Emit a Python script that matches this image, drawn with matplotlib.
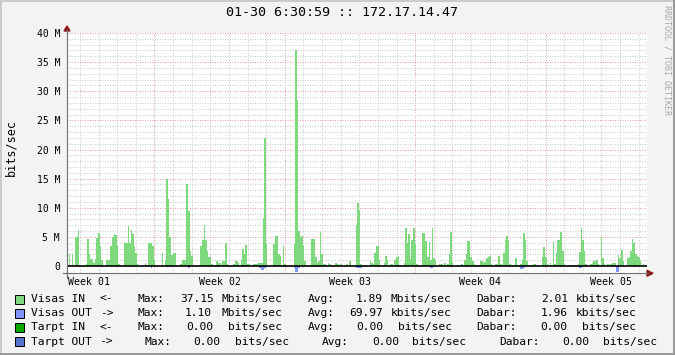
import numpy as np
import matplotlib

matplotlib.use("Agg")

from matplotlib import pyplot as plt
from matplotlib.lines import Line2D
from matplotlib.patches import Polygon, Rectangle

W, H = 675, 355
FONT = "DejaVu Sans Mono"

# Visas IN, Mbit/s, one value per 2 hours (12 per day, one row per day)
visas_in = [
    0, 2.1, 0, 2.1, 0, 5.0, 5.0, 6.2, 0.2, 0, 0, 0,
    0.3, 4.7, 2.1, 1.2, 1.2, 0.5, 1.2, 4.8, 5.6, 3.5, 1.0, 0,
    0, 1.1, 1.1, 1.1, 3.5, 5.0, 5.5, 5.3, 3.5, 0.3, 0, 0,
    0, 4.0, 4.0, 6.9, 4.0, 6.2, 5.5, 3.5, 2.2, 0.3, 0, 0,
    0, 0, 0.5, 0.2, 4.0, 4.0, 4.0, 3.5, 1.0, 0, 0, 0,
    0, 2.2, 0, 1.0, 15.0, 11.5, 5.0, 1.9, 2.2, 2.2, 0.2, 0,
    0, 0.3, 1.0, 1.0, 1.0, 14.0, 9.5, 2.5, 1.8, 0, 0, 0,
    0, 0, 3.5, 4.5, 7.0, 4.5, 2.5, 1.5, 1.5, 0.3, 0, 0.2,
    0.8, 0.5, 0.5, 0, 0.8, 0.8, 3.9, 0.3, 0, 0, 0, 0.3,
    0.8, 0.8, 0.5, 0, 1.0, 2.9, 2.0, 3.6, 0.3, 0.3, 0, 0,
    0.4, 0.4, 0.3, 0.6, 0.6, 0.6, 8.3, 22.0, 3.7, 0, 0, 0,
    0, 3.8, 5.2, 5.2, 2.0, 1.8, 0, 3.5, 0.3, 0, 0, 0,
    0, 0, 3.8, 37.15, 28.5, 6.0, 4.8, 5.2, 3.5, 0.8, 0, 0,
    0, 4.7, 4.7, 4.7, 1.5, 0.5, 0.8, 5.8, 2.0, 0.4, 0.4, 0,
    0.5, 0.4, 0, 0, 0, 0.6, 0.3, 0, 0.4, 0, 0, 0,
    0.4, 0, 0.8, 0.2, 0, 0, 7.0, 10.9, 9.6, 0.3, 0, 0,
    0, 0.2, 0, 0.8, 0.5, 0.3, 2.2, 3.5, 3.4, 1.0, 0, 0.2,
    0.5, 1.8, 1.0, 0, 0.4, 0.4, 0, 1.0, 1.5, 1.8, 0, 0.2,
    0, 0.5, 6.5, 4.0, 5.5, 1.2, 4.4, 6.6, 3.7, 0.3, 0, 0,
    0, 5.7, 5.7, 4.3, 1.5, 4.1, 1.1, 6.6, 1.3, 1.0, 0, 0,
    0.4, 0.4, 0, 0.5, 0, 0.3, 2.1, 5.9, 0.7, 0, 0, 0.2,
    0, 0, 0.4, 0, 1.0, 2.0, 4.3, 4.3, 1.6, 0.8, 0.4, 0,
    0, 0.2, 0.8, 0.8, 0.5, 0.7, 1.3, 1.5, 1.7, 0.4, 0, 0,
    0.3, 0.4, 1.8, 0.4, 0, 2.2, 4.5, 5.2, 4.5, 0.4, 0, 0,
    0, 1.3, 0.2, 0, 0.4, 1.0, 5.6, 4.5, 0.8, 0, 0.2, 0,
    0.3, 0.4, 0, 0, 0, 0, 1.5, 3.3, 1.6, 0.4, 0, 0.6,
    0, 4.1, 0.4, 2.2, 4.5, 4.5, 5.9, 2.6, 0.4, 0, 0, 0,
    0.2, 0.2, 0.2, 0.2, 0.2, 0.3, 2.4, 6.6, 4.4, 2.6, 0.4, 0,
    0, 0.3, 0.5, 0.9, 0.8, 1.0, 0.4, 0, 4.9, 1.4, 0.3, 0,
    0.4, 0, 0.3, 0.5, 0.5, 0.5, 0, 1.9, 1.4, 2.7, 0.8, 0,
    0, 1.3, 1.5, 2.6, 4.6, 3.9, 2.1, 1.7, 1.6, 0.9, 0, 0.3, 0,
]

# Visas OUT, Mbit/s, drawn below zero; only non-zero 2-hour slots listed
out_slots = [43, 54, 64, 65, 66, 67, 78, 103, 124, 125, 126, 127, 138, 139, 140,
             146, 147, 148, 149, 160, 186, 187, 188, 189, 234, 235, 247,
             292, 293, 294, 318, 330, 331, 354, 355]
out_mbit = [0.1, 0.3, 0.2, 0.2, 0.2, 0.2, 0.3, 0.1, 0.3, 0.6, 0.7, 0.4, 0.2, 0.2, 0.2,
            0.4, 1.0, 1.0, 0.3, 0.1, 0.3, 0.3, 0.3, 0.3, 0.3, 0.3, 0.2,
            0.5, 0.5, 0.4, 0.2, 0.3, 0.3, 1.1, 1.0]

week_labels = ["Week 01", "Week 02", "Week 03", "Week 04", "Week 05"]
y_ticks = [0, 5, 10, 15, 20, 25, 30, 35, 40]
y_tick_labels = ["0", "5 M", "10 M", "15 M", "20 M", "25 M", "30 M", "35 M", "40 M"]

legend_rows = [
    ("Visas IN", "<-", "Max:", "37.15", "Mbits/sec", "Avg:", "1.89", "Mbits/sec", "Dabar:", "2.01", "kbits/sec"),
    ("Visas OUT", "->", "Max:", "1.10", "Mbits/sec", "Avg:", "69.97", "kbits/sec", "Dabar:", "1.96", "kbits/sec"),
    ("Tarpt IN", "<-", "Max:", "0.00", "bits/sec", "Avg:", "0.00", "bits/sec", "Dabar:", "0.00", "bits/sec"),
    ("Tarpt OUT", "->", "Max:", "0.00", "bits/sec", "Avg:", "0.00", "bits/sec", "Dabar:", "0.00", "bits/sec"),
]
legend_colors = ["#7ED87E", "#8094FF", "#00A800", "#5472C8"]

C_IN, C_OUT = "#7ED87E", "#8094FF"
SLOTS_PER_DAY = 12
DAYS_SHOWN = 31.12


def fx(px):
    return px / W


def fy(py):
    return 1 - py / H


fig = plt.figure(figsize=(W / 100, H / 100), dpi=100, facecolor="#F3F3F3")

# plot area in pixels: x 67..646.5, y 33 (40 M) .. 273.3 (axis)
ax = fig.add_axes([fx(67), fy(273.3), (646.5 - 67) / W, (273.3 - 33) / H])
ax.set_facecolor("white")
for s in ax.spines.values():
    s.set_visible(False)
ax.set_xlim(0, DAYS_SHOWN)
ax.set_ylim(-1.25, 40)

# grid: 1px dotted lines, grey every day / 1 M, red every week / 5 M
grid_kw = dict(lw=0.72, ls=(0, (1, 1.5)), zorder=0.5, snap=True)
minor_col, major_col = "#CCCCCC", "#E8A0A0"
day_lines = np.arange(0.698, DAYS_SHOWN, 1.0)
for i, d in enumerate(day_lines):
    ax.axvline(d, color=major_col if (i - 4) % 7 == 0 else minor_col, **grid_kw)
for v in range(1, 41):
    ax.axhline(v, color=major_col if v % 5 == 0 else minor_col, **grid_kw)

# data
vin = np.array(visas_in)
vout = np.zeros(len(vin))
vout[out_slots] = out_mbit
edges = np.arange(len(vin) + 1) / SLOTS_PER_DAY
ax.stairs(vin, edges, fill=True, color=C_IN, lw=0, zorder=2)
ax.stairs(-vout, edges, fill=True, color=C_OUT, lw=0, zorder=2)
ax.axhline(0, color="black", lw=1.2, zorder=3)

# ticks
ax.set_yticks(y_ticks, y_tick_labels, fontfamily=FONT, fontsize=7)
week_pos = [day_lines[4] - 3.5 + 7 * k for k in range(len(week_labels))]
ax.set_xticks(week_pos, week_labels, fontfamily=FONT, fontsize=7.1)
ax.tick_params(axis="y", length=0, pad=5)
ax.tick_params(axis="x", length=0, pad=2.5)

# axes lines with arrows
axis_col, arrow_col = "#707070", "#8B1A1A"
fig.add_artist(Line2D([fx(67), fx(67)], [fy(278), fy(30)], color=axis_col, lw=0.8))
fig.add_artist(Line2D([fx(63), fx(648)], [fy(273.3), fy(273.3)], color=axis_col, lw=0.8))
fig.add_artist(Polygon([(fx(64), fy(31)), (fx(70), fy(31)), (fx(67), fy(26))],
                       closed=True, color=arrow_col, transform=fig.transFigure))
fig.add_artist(Polygon([(fx(647), fy(270.3)), (fx(647), fy(276.3)), (fx(653), fy(273.3))],
                       closed=True, color=arrow_col, transform=fig.transFigure))

# title, axis label, watermark
fig.text(fx(342), fy(13), "01-30 6:30:59 :: 172.17.14.47", family=FONT,
         fontsize=9.6, ha="center", va="center")
fig.text(fx(11), fy(148), "bits/sec", family=FONT, fontsize=8.5,
         rotation=90, ha="center", va="center")
fig.text(fx(666.5), fy(60), "RRDTOOL / TOBI OETIKER", family=FONT, fontsize=6,
         rotation=270, ha="center", va="center", color="#A8A8A8")

# legend
cols_by_row = [
    [31, 100, 137, 180, 221, 308, 356, 390.7, 476.7, 540.7, 575.7],
    [31, 100, 137, 185, 221, 308, 349, 390.7, 476.7, 540.7, 575.7],
    [31, 100, 137, 186.7, 228.3, 308, 356.7, 398.3, 476.7, 540.7, 581.7],
    [31, 99, 144.3, 193.3, 235, 321.7, 372.3, 411.7, 499.3, 562.3, 603.3],
]
row_y = [299, 313.3, 327.3, 341.7]
for row, cols, yc, col in zip(legend_rows, cols_by_row, row_y, legend_colors):
    fig.add_artist(Rectangle((fx(15), fy(yc + 4.5)), 9 / W, 9 / H, facecolor=col,
                             edgecolor="black", lw=0.7, transform=fig.transFigure))
    for txt, xp in zip(row, cols):
        fig.text(fx(xp), fy(yc), txt, family=FONT, fontsize=8.1, ha="left", va="center")

# outer border
fig.add_artist(Rectangle((0, fy(2)), 1, 2 / H, color="#CBCBCB", lw=0, transform=fig.transFigure))
fig.add_artist(Rectangle((0, 0), 2 / W, 1, color="#CBCBCB", lw=0, transform=fig.transFigure))
fig.add_artist(Rectangle((0, 0), 1, 2 / H, color="#9A9A9A", lw=0, transform=fig.transFigure))
fig.add_artist(Rectangle((fx(673), 0), 2 / W, 1, color="#9A9A9A", lw=0, transform=fig.transFigure))

fig.savefig("out.png", dpi=100, facecolor=fig.get_facecolor())
